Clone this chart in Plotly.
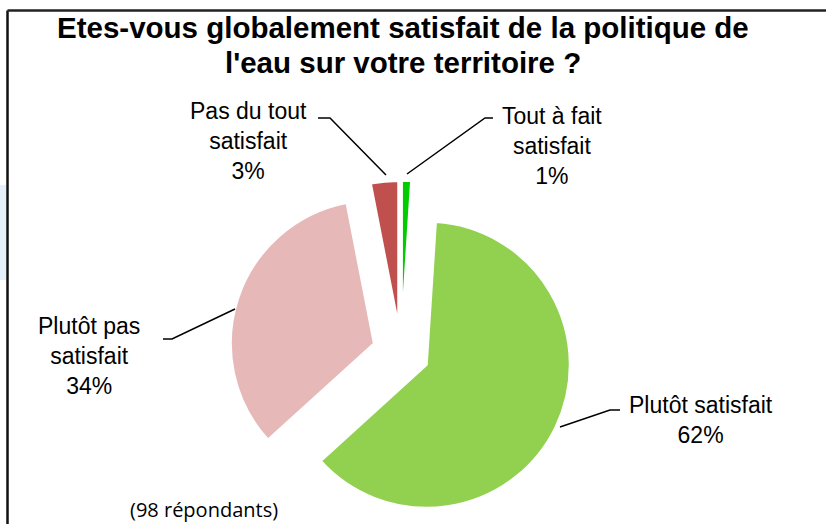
import plotly.graph_objects as go

W, H = 826, 524

# ---- data ----
labels = ["Tout à fait satisfait", "Plutôt satisfait", "Plutôt pas satisfait", "Pas du tout satisfait"]
label_lines = [["Tout à fait", "satisfait"], ["Plutôt satisfait"], ["Plutôt pas", "satisfait"], ["Pas du tout", "satisfait"]]
values = [1, 61, 33, 3]
colors = ["#00CC00", "#92D050", "#E6B9B8", "#C0504D"]
title_lines = ["Etes-vous globalement satisfait de la politique de", "l'eau sur votre territoire ?"]
note = "(98 répondants)"

total = sum(values)
pcts = [round(100 * v / total) for v in values]


def px(x):
    return x / W


def py(y):
    return 1 - y / H


# pie geometry (pixels)
R = 143
PULL = 0.2
CX, CY = 401, H - R * (1 + PULL)
half = R * (1 + PULL)

fig = go.Figure(go.Pie(
    labels=labels,
    values=values,
    sort=False,
    direction="clockwise",
    rotation=0,
    pull=[PULL] * len(values),
    marker=dict(colors=colors, line=dict(color="white", width=2)),
    textinfo="none",
    hoverinfo="label+percent",
    showlegend=False,
    domain=dict(x=[px(CX - half), px(CX + half)], y=[py(CY + half), py(CY - half)]),
))

annotations = []
# title
for text, yc in zip(title_lines, [27, 62]):
    annotations.append(dict(x=px(403), y=py(yc), xref="paper", yref="paper",
                            text=f"<b>{text}</b>", showarrow=False,
                            xanchor="center", yanchor="middle",
                            font=dict(family="Liberation Sans, Arial", size=29.5, color="#000")))

# slice labels: (center x, center y of block) per slice
label_pos = [(552, 146), (701, 420), (89, 356), (248, 141)]
for lines, p, (lx, ly) in zip(label_lines, pcts, label_pos):
    txt = "<br>".join(lines + [f"{p}%"])
    annotations.append(dict(x=px(lx), y=py(ly), xref="paper", yref="paper",
                            text=txt, showarrow=False, xanchor="center", yanchor="middle",
                            font=dict(family="Liberation Sans, Arial", size=23, color="#000")))

annotations.append(dict(x=px(128), y=py(509), xref="paper", yref="paper", text=note,
                        showarrow=False, xanchor="left", yanchor="middle",
                        font=dict(family="Open Sans, Noto Sans", size=20, color="#000")))

# leader lines (pixel waypoints)
leaders = [
    [(493, 118), (485, 118), (407, 174)],
    [(620, 410), (610, 410), (560, 427)],
    [(163, 339), (172, 339), (235, 309)],
    [(318, 118), (330, 118), (386, 175)],
]
shapes = []
for pts in leaders:
    path = "M " + " L ".join(f"{px(x):.5f},{py(y):.5f}" for x, y in pts)
    shapes.append(dict(type="path", xref="paper", yref="paper", path=path,
                       line=dict(color="#000", width=1.5)))

# faint blue strip on left edge
shapes.append(dict(type="rect", xref="paper", yref="paper", x0=0, x1=px(6), y0=py(280), y1=py(185),
                   fillcolor="#E6F0FA", line=dict(width=0), layer="below"))
# frame (left and top)
shapes.append(dict(type="line", xref="paper", yref="paper", x0=px(7.5), x1=px(7.5), y0=0, y1=py(10.5),
                   line=dict(color="#111", width=2.5)))
shapes.append(dict(type="line", xref="paper", yref="paper", x0=px(7.5), x1=1, y0=py(10.5), y1=py(10.5),
                   line=dict(color="#222", width=2.5)))

fig.update_layout(
    width=W, height=H,
    margin=dict(l=0, r=0, t=0, b=0),
    paper_bgcolor="white", plot_bgcolor="white",
    annotations=annotations, shapes=shapes,
)

fig.write_html("out.html", config={"displayModeBar": False},
               post_script="document.body.style.margin='0';document.body.style.overflow='hidden';")
